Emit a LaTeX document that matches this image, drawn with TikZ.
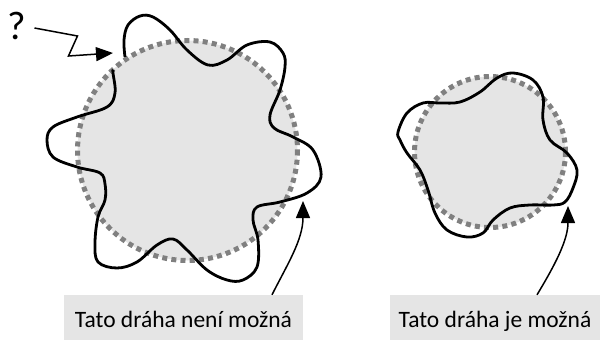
\documentclass[tikz,border=0pt]{standalone}
\usepackage{fontspec}
\setmainfont{Carlito}
\usetikzlibrary{arrows.meta}
\definecolor{diskgray}{RGB}{229,229,229}
\definecolor{rimgray}{RGB}{128,128,128}

\begin{document}
\begin{tikzpicture}[x=1pt,y=-1pt,
    rim/.style={draw=rimgray, fill=diskgray, line width=5pt, dash pattern=on 5pt off 4.2pt},
    orbit/.style={black, line width=2.8pt, line join=round},
    pointer/.style={-{Triangle[length=17pt,width=14pt]}, line width=1.5pt},
    caption/.style={fill=diskgray, minimum height=45pt, inner sep=0pt, text height=19pt, text depth=0pt, font=\fontsize{23.5}{27}\selectfont}]
  \useasboundingbox (0,0) rectangle (603,340);
  % Disks
  \draw[rim] (187.5,150.5) circle[radius=110];
  \draw[rim] (490,152) circle[radius=75.5];
  % Paths
  \draw[orbit] plot[smooth, tension=0.6] coordinates {(125,57) (124,40) (128,25) (140,16) (153,17) (170,30) (187,50) (208,65) (227,60) (247,45) (270,42) (283,53) (285,67) (280,90) (270,115) (274,128) (293,137) (313,150) (321,177) (307,193) (280,202) (257,207) (253,220) (258,240) (257,267) (243,280) (227,280) (207,270) (187,250) (173,239) (157,245) (137,262) (117,268) (98,262) (95,243) (98,217) (105,200) (105,184) (100,173) (77,167) (53,157) (47,140) (53,127) (77,117) (107,107) (115,93) (113,73) (113,70)};
  \draw[orbit] plot[smooth cycle, tension=0.6] coordinates {(398,132) (407,113) (423,103) (440,103) (460,102) (480,92) (497,78) (513,73) (533,80) (543,97) (543,120) (550,140) (567,153) (577,170) (573,188) (565,202) (553,205) (530,205) (510,208) (493,220) (483,233) (467,237) (447,230) (435,213) (428,190) (420,170) (407,153) (400,140)};
  % Labels
  \node[caption, minimum width=239pt] (lblL) at (183.5,317.5) {Tato dráha není možná};
  \node[caption, minimum width=210pt] (lblR) at (495,317.5) {Tato dráha je možná};
  \node[font=\fontsize{40}{44}\selectfont, inner sep=0pt] (q) at (17,26) {?};
  % Arrows
  \coordinate (tipL) at (303,201);
  \coordinate (tipR) at (568,206);
  \coordinate (gap) at (113,53);
  \draw[pointer] ([xshift=88.5pt]lblL.north) .. controls (287,265) and (303,240) .. (tipL);
  \draw[pointer] ([xshift=42pt]lblR.north) .. controls (555,265) and (568,240) .. (tipR);
  \draw[pointer] ([xshift=8pt,yshift=-2pt]q.east) -- ++(43,8) -- ++(-9,20) -- (gap);
\end{tikzpicture}
\end{document}
